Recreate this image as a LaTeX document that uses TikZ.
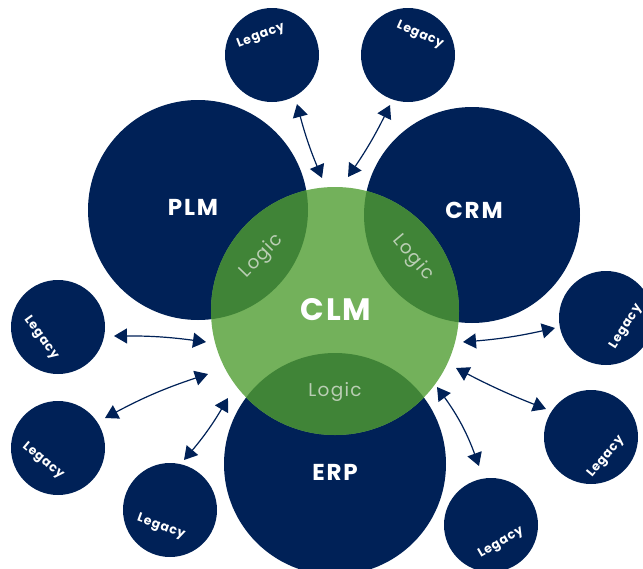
\documentclass[tikz,border=0pt]{standalone}
\usepackage{fontspec}
\setmainfont{Poppins}
\usetikzlibrary{arrows.meta}
\definecolor{navy}{RGB}{0,33,87}
\definecolor{lgreen}{RGB}{115,177,91}
\definecolor{dgreen}{RGB}{64,132,55}
\definecolor{logictxt}{RGB}{186,206,180}
\tikzset{
  big/.style={circle, fill=navy, inner sep=0pt, minimum size=#1},
  legacy/.style={circle, fill=navy, inner sep=0pt, minimum size=94pt},
  legtxt/.style={text=white, font=\addfontfeatures{LetterSpace=6}\fontsize{12.5}{14}\selectfont\bfseries, inner sep=0pt},
  systxt/.style={text=white, font=\addfontfeatures{LetterSpace=8}\fontsize{23}{26}\selectfont\bfseries, inner sep=0pt},
  logtxt/.style={text=logictxt, font=\addfontfeatures{LetterSpace=7}\fontsize{18.5}{21}\selectfont, inner sep=0pt},
  link/.style={navy, line width=1.2pt, {Triangle[length=13pt,width=15pt]}-{Triangle[length=13pt,width=15pt]}},
}
\begin{document}
\begin{tikzpicture}[x=1pt,y=-1pt]
\useasboundingbox (0,0) rectangle (643,568);
% big system circles
\node[big=220pt] (plm) at (198,210) {};
\node[big=216pt] (crm) at (472,215) {};
\node[big=222pt] (erp) at (335,464) {};
% legacy circles
\node[legacy] (l1) at (272,55) {};
\node[legacy] (l2) at (408,55) {};
\node[legacy] (l3) at (58,327) {};
\node[legacy] (l4) at (58,448) {};
\node[legacy] (l5) at (170,510) {};
\node[legacy] (l6) at (606,318) {};
\node[legacy] (l7) at (591,437) {};
\node[legacy] (l8) at (491,525) {};
% CLM
\node[circle, fill=lgreen, inner sep=0pt, minimum size=248pt] (clm) at (335,311) {};
\begin{scope}
  \clip (335,311) circle (124pt);
  \fill[dgreen] (198,210) circle (110pt);
  \fill[dgreen] (472,215) circle (108pt);
  \fill[dgreen] (335,464) circle (111pt);
\end{scope}
% texts
\node[systxt] (tplm) at (193,207) {PLM};
\node[systxt] (tcrm) at (474,210) {CRM};
\node[systxt] (terp) at (335,472) {ERP};
\node[text=white, font=\addfontfeatures{LetterSpace=6}\fontsize{31}{34}\selectfont\bfseries, inner sep=0pt] (tclm) at (336,310) {CLM};
\node[logtxt, rotate=46] (lg1) at (262,256) {Logic};
\node[logtxt, rotate=-50] (lg2) at (413,258) {Logic};
\node[logtxt] (lg3) at (335,392) {Logic};
\node[legtxt, rotate=21] (t1) at (261,36) {Legacy};
\node[legtxt, rotate=-24] (t2) at (420,35) {Legacy};
\node[legtxt, rotate=-54] (t3) at (41,338) {Legacy};
\node[legtxt, rotate=-40] (t4) at (43,461) {Legacy};
\node[legtxt, rotate=-20] (t5) at (161,527) {Legacy};
\node[legtxt, rotate=58] (t6) at (626,327) {Legacy};
\node[legtxt, rotate=50] (t7) at (606,457) {Legacy};
\node[legtxt, rotate=30] (t8) at (501,543) {Legacy};
% arrow end points
\coordinate (a1s) at (297,104); \coordinate (a1e) at (322,178);
\coordinate (a2s) at (390,105); \coordinate (a2e) at (348,177);
\coordinate (a3s) at (114,336); \coordinate (a3e) at (206,342);
\coordinate (a4s) at (105,418); \coordinate (a4e) at (208,374);
\coordinate (a5s) at (184,460); \coordinate (a5e) at (228,398);
\coordinate (a6s) at (555,328); \coordinate (a6e) at (463,342);
\coordinate (a7s) at (546,409); \coordinate (a7e) at (456,368);
\coordinate (a8s) at (479,466); \coordinate (a8e) at (437,387);
\draw[link] (a1s) to[bend right=4] (a1e);
\draw[link] (a2s) to[bend left=4] (a2e);
\draw[link] (a3s) to[bend left=4] (a3e);
\draw[link] (a4s) to[bend left=5] (a4e);
\draw[link] (a5s) to[bend right=5] (a5e);
\draw[link] (a6s) to[bend left=4] (a6e);
\draw[link] (a7s) to[bend left=3] (a7e);
\draw[link] (a8s) to[bend right=8] (a8e);
\end{tikzpicture}
\end{document}
